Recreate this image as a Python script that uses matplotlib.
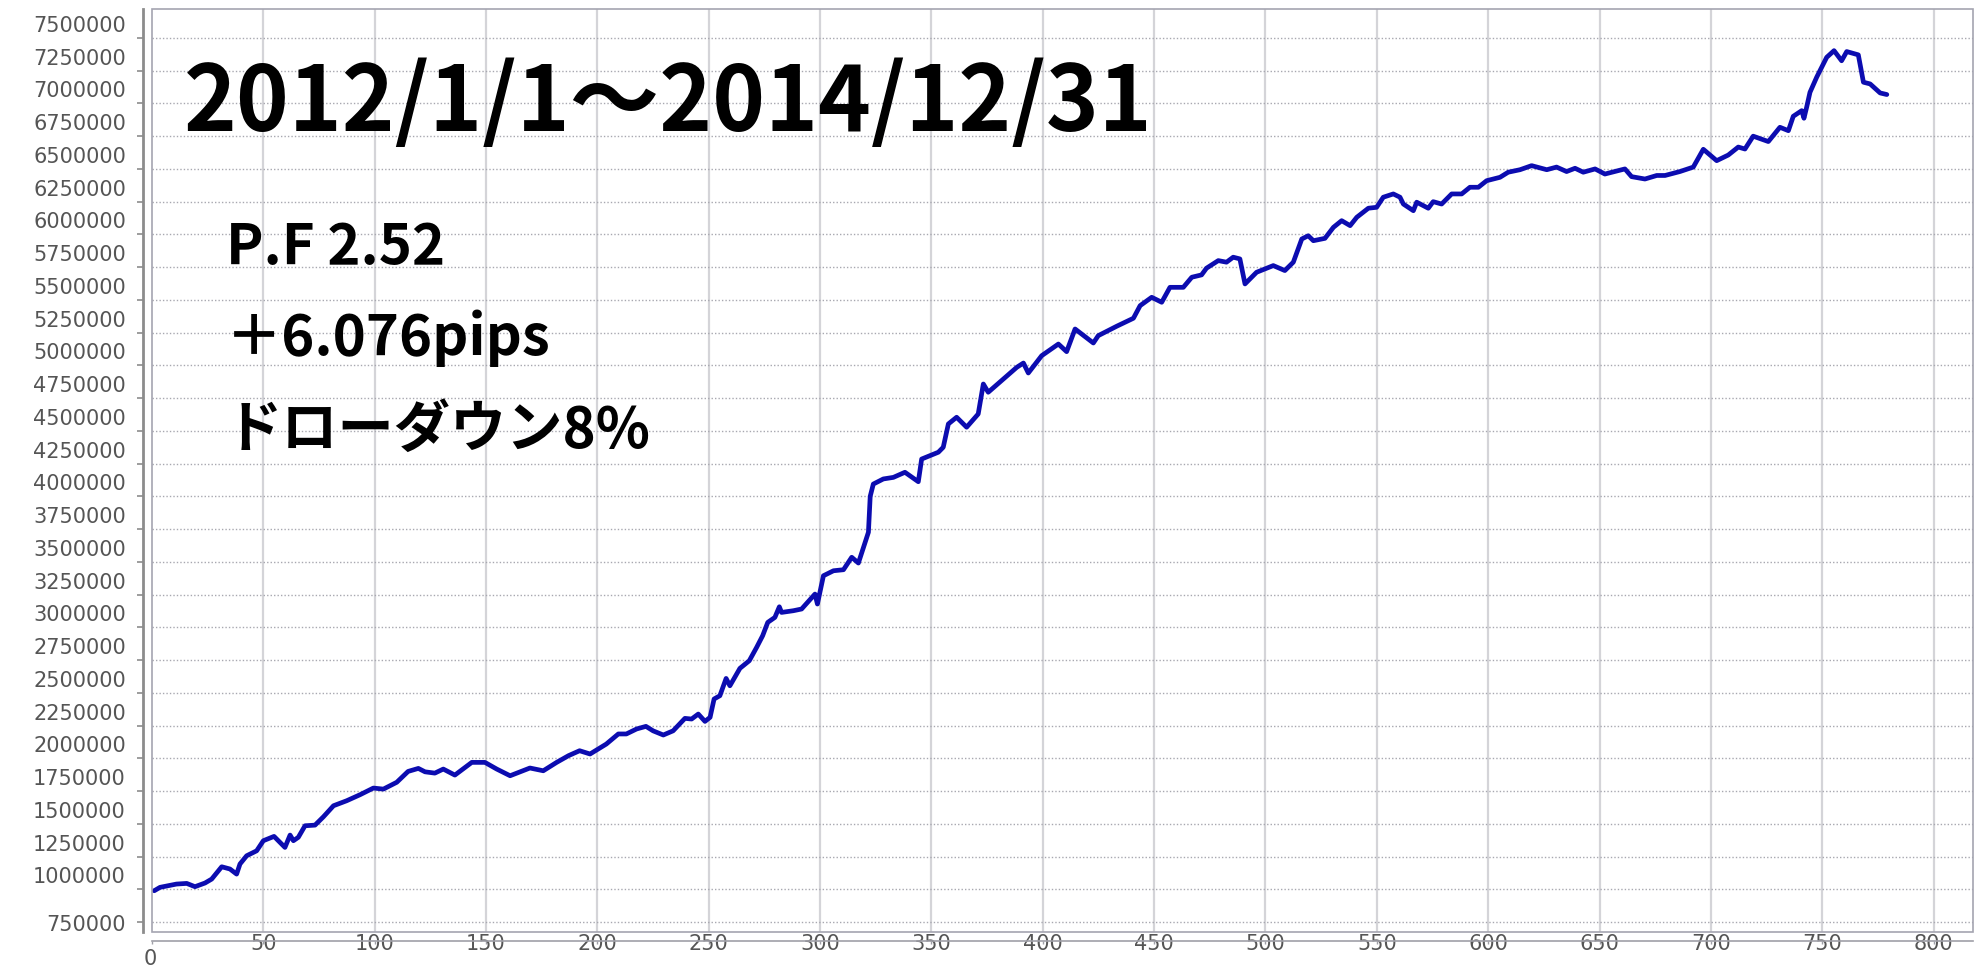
import matplotlib
matplotlib.use("Agg")
import matplotlib.pyplot as plt
import matplotlib.transforms as mtransforms
from matplotlib.patches import Rectangle
import numpy as np

# ---- data (trade number, account balance) ----
trade_no = [1, 3.6, 11, 15.6, 19.3, 23.8, 26.8, 31.3, 35, 38, 39.5, 42.5, 47, 50, 54.8,
            59.7, 62, 63.5, 65.7, 68.7, 73.2, 77, 81.5, 87.4, 93.4, 99.4, 103.9, 109.9,
            115, 119.6, 122.6, 127, 130.8, 136, 143.6, 149.5, 154.8, 160.8, 169.7, 175.7,
            181.7, 187, 192, 196.7, 204, 209.4, 213, 217.6, 221.8, 225, 229.6, 234, 239.3,
            242.3, 245.3, 248.3, 250.6, 252.4, 255, 257.8, 259.5, 264, 268.2, 271.5, 274.2,
            276.5, 279.7, 281.7, 282.7, 288, 291.7, 297.7, 298.8, 301.5, 306, 310.5, 314.2,
            317.2, 320.2, 321.7, 322.5, 323.9, 328.4, 332.9, 338.1, 344.1, 345.6, 353.1,
            355.3, 357.6, 361.3, 365.8, 371, 373.3, 375.5, 382.3, 388.3, 391.3, 393.5,
            399.5, 407, 410.7, 414.5, 422.7, 424.9, 433.2, 440.7, 443.7, 448.9, 453.4,
            457.1, 463.1, 466.9, 471.3, 473.5, 478.8, 482.5, 485.5, 488.5, 490.8, 496,
            503.5, 508.7, 512.5, 516.3, 519.2, 521.5, 526.7, 530.5, 534.2, 538, 541, 546.2,
            549.9, 552.9, 557.4, 560.4, 561.9, 566.4, 567.9, 573.1, 575.3, 579.1, 583.6,
            588.1, 591.8, 595.6, 599.3, 605.3, 609, 614.3, 619.5, 626.3, 630.7, 635.2, 639,
            642.7, 648, 652.4, 661.4, 664.4, 670.4, 675.7, 679.4, 686.1, 692.1, 696.6,
            702.6, 707.8, 712.3, 715.3, 719, 725.8, 731, 734.8, 737, 740.8, 741.8, 743,
            744.5, 747.5, 752, 755.3, 758.7, 761, 766.2, 768.5, 771.5, 776, 779]
balance = [989000, 1015000, 1040000, 1045000, 1020000, 1048000, 1078000, 1172000, 1155000,
           1116000, 1193000, 1256000, 1294000, 1371000, 1404000, 1320000, 1414000, 1371000,
           1397000, 1485000, 1490000, 1554000, 1638000, 1676000, 1722000, 1773000, 1765000,
           1817000, 1900000, 1923000, 1897000, 1887000, 1918000, 1872000, 1969000, 1969000,
           1918000, 1867000, 1926000, 1905000, 1969000, 2020000, 2058000, 2033000, 2109000,
           2186000, 2186000, 2224000, 2244000, 2210000, 2178000, 2210000, 2305000, 2300000,
           2338000, 2282000, 2313000, 2453000, 2478000, 2610000, 2554000, 2687000, 2745000,
           2847000, 2936000, 3038000, 3076000, 3157000, 3114000, 3127000, 3140000, 3254000,
           3178000, 3394000, 3432000, 3440000, 3535000, 3491000, 3649000, 3726000, 4000000,
           4094000, 4133000, 4145000, 4184000, 4112000, 4285000, 4337000, 4375000, 4553000,
           4604000, 4528000, 4629000, 4858000, 4795000, 4896000, 4985000, 5018000, 4942000,
           5074000, 5163000, 5105000, 5278000, 5171000, 5227000, 5299000, 5360000, 5456000,
           5520000, 5482000, 5596000, 5596000, 5673000, 5691000, 5742000, 5800000, 5788000,
           5826000, 5813000, 5622000, 5711000, 5762000, 5724000, 5788000, 5965000, 5990000,
           5952000, 5970000, 6054000, 6105000, 6067000, 6131000, 6200000, 6207000, 6284000,
           6309000, 6284000, 6232000, 6181000, 6246000, 6200000, 6250000, 6232000, 6309000,
           6309000, 6360000, 6360000, 6410000, 6436000, 6475000, 6494000, 6525000, 6494000,
           6514000, 6480000, 6505000, 6475000, 6500000, 6461000, 6500000, 6441000, 6423000,
           6450000, 6450000, 6480000, 6514000, 6650000, 6563000, 6606000, 6667000, 6652000,
           6750000, 6709000, 6818000, 6792000, 6902000, 6945000, 6887000, 6971000, 7085000,
           7200000, 7352000, 7403000, 7326000, 7396000, 7371000, 7162000, 7149000, 7080000,
           7068000]

y_ticks = list(range(750000, 7500001, 250000))
x_ticks = list(range(0, 801, 50))

title_text = "2012/1/1～2014/12/31"
stats_lines = ["P.F 2.52", "＋6.076pips", "ドローダウン8%"]

# ---- figure ----
W, H, DPI = 1988, 970, 100
fig = plt.figure(figsize=(W / DPI, H / DPI), dpi=DPI)
fig.patch.set_facecolor("white")

left_px, right_px, top_px, bottom_px = 152, 1973, 10, 933
ax = fig.add_axes([left_px / W, 1 - bottom_px / H,
                   (right_px - left_px) / W, (bottom_px - top_px) / H])

ax.plot(trade_no, balance, color="#0c0cb0", lw=3.4, solid_joinstyle="round",
        solid_capstyle="round", zorder=5)

ax.set_xlim(0, 817.7)
ax.set_ylim(674000, 7721000)
ax.set_xticks(x_ticks)
ax.set_yticks(y_ticks)
ax.set_xticklabels([str(v) for v in x_ticks])
ax.set_yticklabels([str(v) for v in y_ticks])

# grids
for xv in x_ticks[1:]:
    ax.axvline(xv, color="#d4d4d8", lw=1.6, zorder=1)
for yv in y_ticks:
    ax.axhline(yv, color="#a8a8b0", lw=1.0, ls=(0, (1, 1.5)), zorder=1)

# frame around the data area
ax.add_patch(Rectangle((0, 0), 1, 1, transform=ax.transAxes, fill=False,
                       edgecolor="#a4a4b0", lw=1.2, zorder=6, clip_on=False))

# detached axis lines
for s in ["top", "right"]:
    ax.spines[s].set_visible(False)
ax.spines["left"].set_position(("outward", 6.5))
ax.spines["left"].set_color("#8c8c8c")
ax.spines["left"].set_linewidth(2.0)
ax.spines["bottom"].set_position(("outward", 6.5))
ax.spines["bottom"].set_color("#a0a0a8")
ax.spines["bottom"].set_linewidth(1.2)

ax.tick_params(axis="y", direction="out", length=4.3, width=1.2, color="#8c8c8c",
               labelsize=15, labelcolor="#555555", pad=8)
ax.tick_params(axis="x", direction="out", length=2.5, width=1.0, color="#a0a0a8",
               labelsize=15, labelcolor="#555555", pad=-8)

for i, lab in enumerate(ax.get_yticklabels()):
    if i > 0:
        lab.set_transform(lab.get_transform() +
                          mtransforms.ScaledTranslation(0, 0.15, fig.dpi_scale_trans))
xl = ax.get_xticklabels()
xl[0].set_transform(xl[0].get_transform() +
                    mtransforms.ScaledTranslation(-0.02, -0.15, fig.dpi_scale_trans))

# annotations
cjk = ["Noto Sans CJK JP", "DejaVu Sans"]
fig.text(184 / W, 1 - 131 / H, title_text, family=cjk, fontweight="bold",
         fontsize=64.5, color="black", va="baseline", ha="left")
baselines = [264, 355, 447]
for txt, b in zip(stats_lines, baselines):
    fig.text(226 / W, 1 - b / H, txt, family=cjk, fontweight="bold",
             fontsize=40.5, color="black", va="baseline", ha="left")

fig.savefig("out.png", dpi=DPI, facecolor="white")
